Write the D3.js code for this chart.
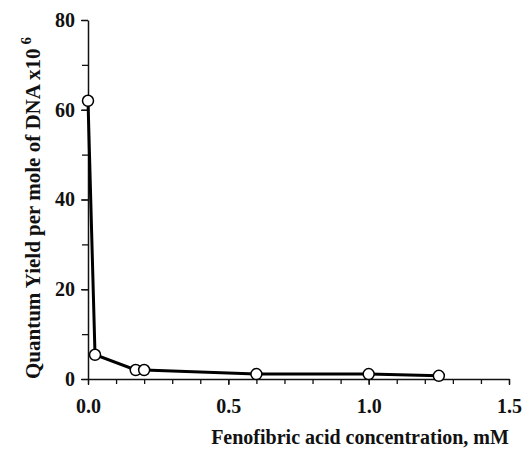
<!DOCTYPE html>
<html>
<head>
<meta charset="utf-8">
<script src="https://cdn.jsdelivr.net/npm/d3@7"></script>
<style>
  body { margin: 0; background: #fff; }
</style>
</head>
<body>
<svg id="chart" width="525" height="450"></svg>
<script>
// values
const concentration = [0, 0.025, 0.17, 0.2, 0.6, 1.0, 1.25];
const quantumYield = [62, 5.4, 2, 2, 1.1, 1.1, 0.7];
const xTicks = [0, 0.5, 1.0, 1.5];
const yTicks = [0, 20, 40, 60, 80];

const FONT = '"Liberation Serif", "DejaVu Serif", serif';

const svg = d3.select('#chart');
const margin = { top: 20, right: 16, bottom: 71, left: 88 };
const width = 525 - margin.left - margin.right;
const height = 450 - margin.top - margin.bottom;

const x = d3.scaleLinear().domain([0, 1.5]).range([0, width]);
const y = d3.scaleLinear().domain([0, 80]).range([height, 0]);

const g = svg.append('g').attr('transform', `translate(${margin.left},${margin.top})`);

// minor ticks first
g.append('g')
  .attr('transform', `translate(0,${height})`)
  .call(d3.axisBottom(x).tickValues(d3.range(0, 1.51, 0.1)).tickSize(5).tickFormat(''))
  .call(a => a.select('.domain').remove());
g.append('g')
  .call(d3.axisLeft(y).tickValues(d3.range(0, 81, 10)).tickSize(6).tickFormat(''))
  .call(a => a.select('.domain').remove());

const xAxis = g.append('g')
  .attr('transform', `translate(0,${height})`)
  .call(d3.axisBottom(x).tickValues(xTicks).tickSize(6).tickSizeOuter(0).tickPadding(14).tickFormat(d3.format('.1f')));
const yAxis = g.append('g')
  .call(d3.axisLeft(y).tickValues(yTicks).tickSize(7).tickSizeOuter(0).tickPadding(6));

[xAxis, yAxis].forEach(a => {
  a.attr('font-family', FONT).attr('font-size', 20).attr('font-weight', 'bold');
  a.selectAll('path').attr('stroke', '#111').attr('stroke-width', 1.5);
  a.selectAll('text').attr('fill', '#111');
});
g.selectAll('.tick line').attr('stroke', '#111').attr('stroke-width', 1.3);

const pts = concentration.map((c, i) => [c, quantumYield[i]]);

g.append('path')
  .datum(pts)
  .attr('fill', 'none')
  .attr('stroke', '#000')
  .attr('stroke-width', 3)
  .attr('d', d3.line().x(d => x(d[0])).y(d => y(d[1])));

g.selectAll('circle')
  .data(pts)
  .join('circle')
  .attr('cx', d => x(d[0]))
  .attr('cy', d => y(d[1]))
  .attr('r', 5.5)
  .attr('fill', '#fff')
  .attr('stroke', '#000')
  .attr('stroke-width', 1.5);

svg.append('text')
  .attr('x', 360)
  .attr('y', 444)
  .attr('text-anchor', 'middle')
  .attr('font-family', FONT)
  .attr('font-weight', 'bold')
  .attr('font-size', 20)
  .attr('fill', '#111')
  .text('Fenofibric acid concentration, mM');

const yt = svg.append('text')
  .attr('transform', 'translate(40,208) rotate(-90)')
  .attr('text-anchor', 'middle')
  .attr('font-family', FONT)
  .attr('font-weight', 'bold')
  .attr('font-size', 21)
  .attr('fill', '#111');
yt.append('tspan').text('Quantum Yield per mole of DNA x10');
yt.append('tspan').attr('dy', -9).attr('dx', 4).attr('font-size', 15).text('6');
</script>
</body>
</html>
